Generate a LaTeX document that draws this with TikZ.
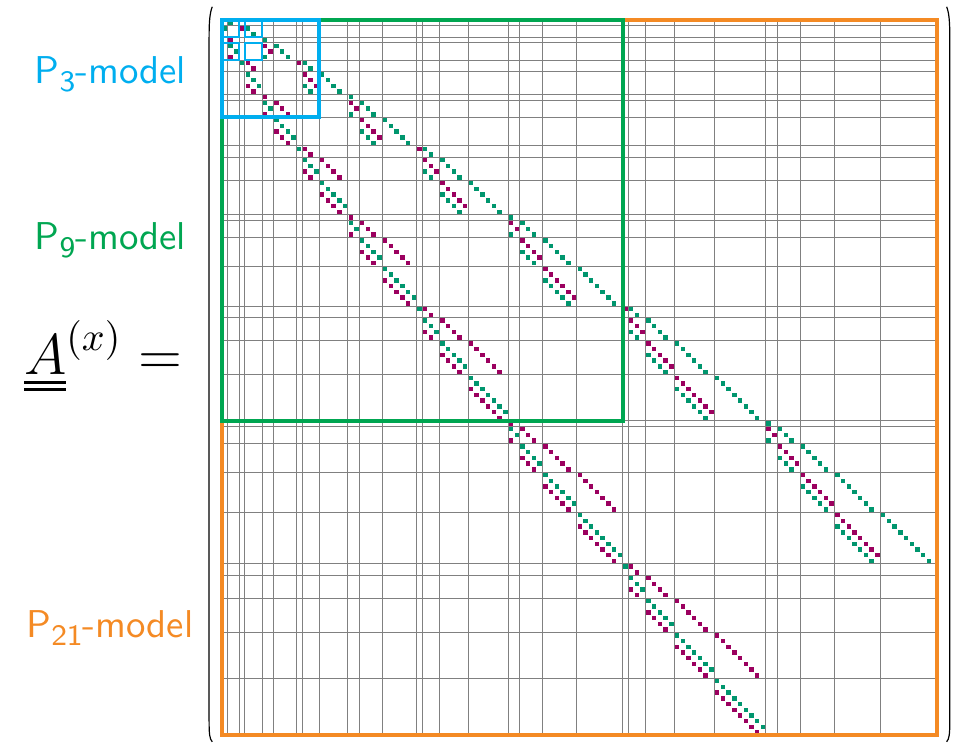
\documentclass[tikz,border=0pt]{standalone}
\usepackage{tikz}
\definecolor{EntGrn} {RGB}{0,150,110}
\definecolor{EntMag} {RGB}{155,0,95}
\definecolor{BoxCyan}{RGB}{0,174,239}
\definecolor{BoxGrn} {RGB}{0,166,81}
\definecolor{BoxOrg} {RGB}{244,138,36}
\tikzset{
  gridln/.style={draw=gray,line width=0.25pt},
  ent_g/.style={fill=EntGrn},
  ent_m/.style={fill=EntMag},
  mbox/.style={line width=1pt},
  subbox/.style={line width=0.6pt,BoxCyan},
  lbl/.style={font=\fontsize{9.7}{11}\selectfont\sffamily,inner sep=0pt},
  paren/.style={line width=0.3pt},
}
% sub-blocks of the moment vector: group/order/first index
\def\subblk{0/0/0, 1/1/1, 2/0/3, 2/2/4, 3/1/7, 3/3/9, 4/0/13, 4/2/14, 4/4/17,
  5/1/22, 5/3/24, 5/5/28, 6/0/34, 6/2/35, 6/4/38, 6/6/43,
  7/1/50, 7/3/52, 7/5/56, 7/7/62, 8/0/70, 8/2/71, 8/4/74, 8/6/79, 8/8/86,
  9/1/95, 9/3/97, 9/5/101, 9/7/107, 9/9/115}
% diagonal run of entries: row0, col0, length, row shift, style
\newcommand\diagrun[5]{%
  \ifnum#3>0
    \foreach \i in {1,...,#3}{
      \fill[#5] ({#2+\i-0.5-\hs},{#1+#4+\i-0.5-\hs}) rectangle ++(2*\hs,2*\hs);
    }%
  \fi}
\newcommand\msub[1]{\raisebox{-2pt}{\fontsize{7.4}{8}\selectfont#1}}
\newcommand\dunder[1]{\vtop{\hbox{$#1$}\kern1.6pt\hrule height 0.75pt\kern1pt\hrule height 0.75pt}}

\begin{document}
\begin{tikzpicture}[x=1.431pt,y=-1.431pt]
\useasboundingbox (-38.78,-3.49) rectangle (129.28,126.31);
\def\N{125}\def\hs{0.39}

% block grid
\foreach \b in {1,3,4,7,9,13,14,17,22,24,28,34,35,38,43,50,52,56,62,70,71,74,79,86,95,97,101,107,115}{
  \draw[gridln] (\b,0) -- (\b,\N);
  \draw[gridln] (0,\b) -- (\N,\b);
}

% nonzero entries
\foreach \ka/\la/\sa in \subblk{
  \foreach \kb/\lb/\sb in \subblk{
    \pgfmathtruncatemacro\dk{\kb-\ka}
    \pgfmathtruncatemacro\dl{\lb-\la}
    \ifnum\dk=1
      \ifnum\dl=1
        \pgfmathtruncatemacro\na{\la+1}
        \pgfmathtruncatemacro\nb{\lb-1}
        \diagrun{\sa}{\sb}{\na}{0}{ent_g}
        \diagrun{\sb}{\sa}{\lb}{0}{ent_g}
        \diagrun{\sb}{\sa}{\nb}{2}{ent_m}
      \fi
      \ifnum\dl=-1
        \pgfmathtruncatemacro\na{\la-1}
        \pgfmathtruncatemacro\nb{\lb+1}
        \diagrun{\sa}{\sb}{\la}{0}{ent_m}
        \diagrun{\sa}{\sb}{\na}{2}{ent_g}
        \diagrun{\sb}{\sa}{\nb}{0}{ent_m}
      \fi
    \fi
  }
}

% model boxes
\draw[mbox,BoxOrg]  (0,0) rectangle (\N,\N);
\draw[mbox,BoxGrn]  (0,0) rectangle (70,70);
\foreach \u/\v in {0/0,4/0,0/4,4/4}
  \draw[subbox] (\u,\v) rectangle ++(3,3);
\draw[mbox,BoxCyan] (0,0) rectangle (17,17);

% brackets
\draw[paren] (-1.7,-2.3) .. controls (-2.15,-1.2) and (-2.25,0.5) .. (-2.25,3) -- (-2.25,122.5) .. controls (-2.25,124.8) and (-2.15,125.6) .. (-1.7,126.1);
\draw[paren] (126.6,-2.3) .. controls (127.05,-1.2) and (127.15,0.5) .. (127.15,3) -- (127.15,122.5) .. controls (127.15,124.8) and (127.05,125.6) .. (126.6,126.1);

% labels
\node[lbl,text=BoxCyan,anchor=base east] (lbP3) at (-6.11,11.06) {P\msub{3}-model};
\node[lbl,text=BoxGrn,anchor=base east]  (lbP9) at (-6.11,40.18) {P\msub{9}-model};
\node[lbl,text=BoxOrg,anchor=base east]  (lbP21) at (-4.84,107.8) {P\msub{21}-model};
\node[anchor=base east,inner sep=0pt,font=\fontsize{14.6}{18}\selectfont] (lbA) at (-6.8,62.0) {$\dunder{A}^{(x)} =$};

\end{tikzpicture}
\end{document}
